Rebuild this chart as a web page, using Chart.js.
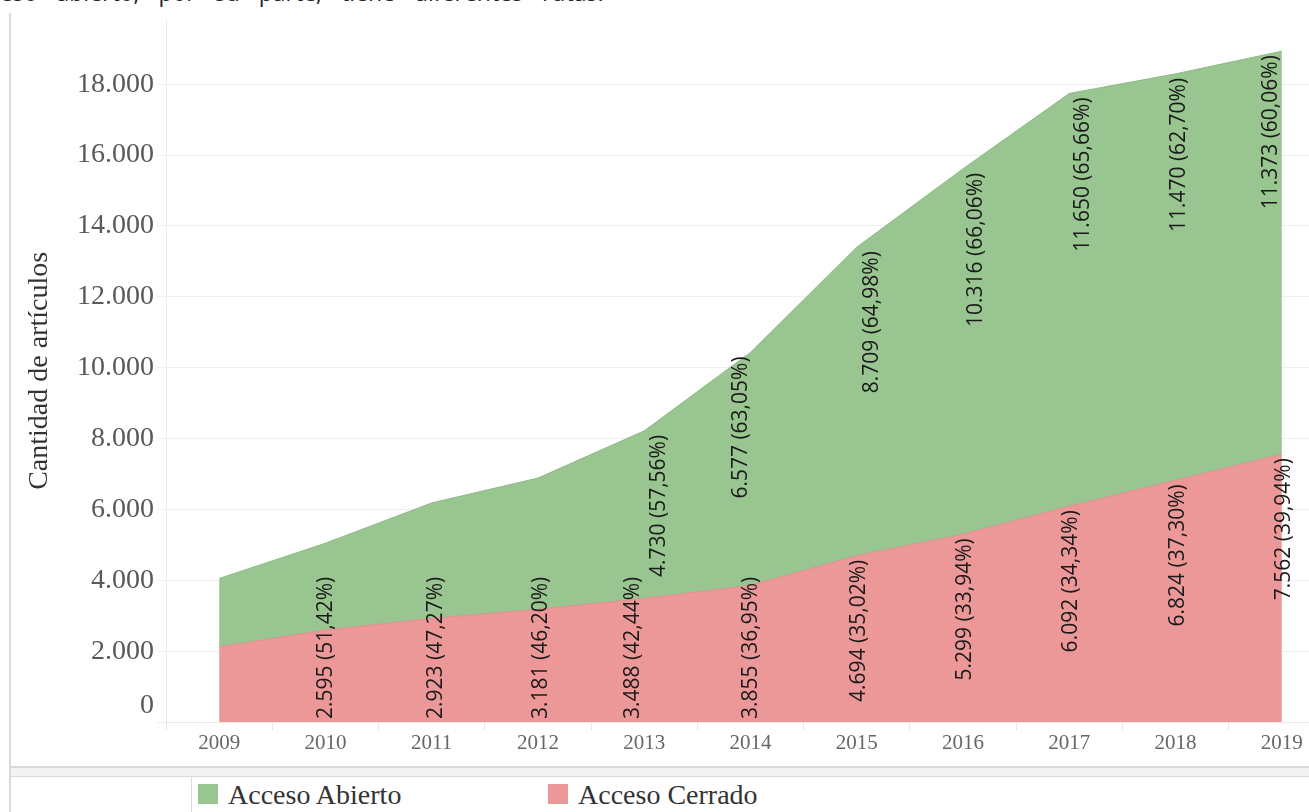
<!DOCTYPE html>
<html>
<head>
<meta charset="utf-8">
<script src="https://cdn.jsdelivr.net/npm/chart.js@4"></script>
<style>
  html, body { margin: 0; padding: 0; background: #fff; }
  body { width: 1309px; height: 812px; overflow: hidden; position: relative; }
  #topText { position: absolute; left: -35px; top: -19px; white-space: nowrap;
    font-family: "Open Sans", sans-serif; font-size: 23px; line-height: 1; color: #222; word-spacing: 13px; }
  #frame { position: absolute; left: 9px; top: 13px; width: 1400px; height: 753px;
    border-left: 2px solid #d9d9d9; border-bottom: 2px solid #d9d9d9; }
  #band { position: absolute; left: 9px; top: 768px; width: 1400px; height: 8px; background: #f3f3f3; border-left: 2px solid #d9d9d9; }
  #legendBox { position: absolute; left: 9px; top: 776px; width: 1400px; height: 50px;
    border-top: 1px solid #d9d9d9; border-left: 2px solid #d9d9d9; background: #fff; }
  #divider { position: absolute; left: 191px; top: 777px; width: 1px; height: 40px; background: #dcdcdc; }
  .lg { position: absolute; top: 777px; height: 35px; font-family: "Liberation Serif", serif; font-size: 28px; color: #333; line-height: 35px; white-space: nowrap; }
  .sw { position: absolute; top: 7px; left: 0; width: 20px; height: 20px; }
  .lg span.t { position: absolute; left: 30px; top: 0; }
  #wrap { position: absolute; left: 0; top: 0; width: 1345px; height: 766px; }
</style>
</head>
<body>
<div id="topText">acceso abierto, por su parte, tiene diferentes rutas.</div>
<div id="frame"></div>
<div id="band"></div>
<div id="legendBox"></div>
<div id="divider"></div>
<div class="lg" id="lg0" style="left:198px;"><div class="sw"></div><span class="t"></span></div>
<div class="lg" id="lg1" style="left:548px;"><div class="sw"></div><span class="t"></span></div>
<div id="wrap"><canvas id="c" width="1345" height="766"></canvas></div>
<script>
// ---- data ----
const years = ['2009','2010','2011','2012','2013','2014','2015','2016','2017','2018','2019'];
const closedValues = [2120, 2595, 2923, 3181, 3488, 3855, 4694, 5299, 6092, 6824, 7562];
const openValues   = [1930, 2452, 3261, 3704, 4730, 6577, 8709, 10316, 11650, 11470, 11373];
const closedPct = [null, 51.42, 47.27, 46.20, 42.44, 36.95, 35.02, 33.94, 34.34, 37.30, 39.94];
const openPct   = [null, null, null, null, 57.56, 63.05, 64.98, 66.06, 65.66, 62.70, 60.06];
const yTicks = [0, 2000, 4000, 6000, 8000, 10000, 12000, 14000, 16000, 18000];
const seriesNames = ['Acceso Abierto', 'Acceso Cerrado'];
const yTitle = 'Cantidad de artículos';

// ---- styles ----
const seriesColors = ['#99c590', '#ec9898'];
const seriesBorders = ['#8cba83', '#e28c8c'];
const yMax = 19820;
// label nudges (pixels) to mimic the original's collision-avoiding placement
const closedLabelDx = [0, 0, 3, 2, -12, 0, 1, 1, 1, 1, 1];
const openLabelDx   = [0, 0, 0, 0, 14, -10, 14, 12, 13, 2, -12];

function fmtNum(v) { return String(v).replace(/\B(?=(\d{3})+(?!\d))/g, '.'); }
function fmtPct(p) { return p.toFixed(2).replace('.', ',') + '%'; }

// legend (HTML)
[0,1].forEach(i => {
  const el = document.getElementById('lg' + i);
  el.querySelector('.sw').style.background = seriesColors[i];
  el.querySelector('.t').textContent = seriesNames[i];
});

const labelPlugin = {
  id: 'areaLabels',
  afterDraw(chart) {
    const ctx = chart.ctx;
    const xs = chart.scales.x, ys = chart.scales.y;
    const base = ys.getPixelForValue(0) - 3;
    ctx.save();
    ctx.font = '21px "Open Sans", sans-serif';
    ctx.fillStyle = '#1a1a1a';
    ctx.textAlign = 'right';
    ctx.textBaseline = 'middle';
    const draw = (text, x, y) => {
      ctx.save();
      ctx.translate(x, y);
      ctx.rotate(-Math.PI / 2);
      ctx.fillText(text, 0, 0);
      ctx.restore();
    };
    for (let i = 0; i < years.length; i++) {
      const cx = xs.getPixelForValue(i) + 1;
      if (closedPct[i] != null) {
        const t = fmtNum(closedValues[i]) + ' (' + fmtPct(closedPct[i]) + ')';
        const w = ctx.measureText(t).width;
        const top = ys.getPixelForValue(closedValues[i]) + 4;
        draw(t, cx + closedLabelDx[i], Math.min(top, base - w));
      }
      if (openPct[i] != null) {
        const t = fmtNum(openValues[i]) + ' (' + fmtPct(openPct[i]) + ')';
        const top = ys.getPixelForValue(closedValues[i] + openValues[i]) + 4;
        draw(t, cx + openLabelDx[i], top);
      }
    }
    ctx.restore();
  }
};

new Chart(document.getElementById('c'), {
  type: 'line',
  data: {
    labels: years,
    datasets: [
      { label: seriesNames[1], data: closedValues, backgroundColor: seriesColors[1], borderColor: seriesBorders[1],
        borderWidth: 1, fill: 'origin', pointRadius: 0, tension: 0 },
      { label: seriesNames[0], data: openValues, backgroundColor: seriesColors[0], borderColor: seriesBorders[0],
        borderWidth: 1, fill: '-1', pointRadius: 0, tension: 0 }
    ]
  },
  options: {
    responsive: false,
    animation: false,
    devicePixelRatio: 1,
    layout: { padding: { left: 10, top: 0, right: 10, bottom: 0 } },
    plugins: { legend: { display: false }, tooltip: { enabled: false } },
    scales: {
      x: {
        type: 'category',
        offset: true,
        grid: { offset: true, drawOnChartArea: false, drawTicks: true, tickLength: 8, color: '#e4e4e4' },
        border: { display: true, color: '#e8e8e8' },
        ticks: { font: { family: '"Liberation Serif", serif', size: 21 }, color: '#666', padding: 1, maxRotation: 0, autoSkip: false },
        afterFit(s) { s.height = 44; }
      },
      y: {
        stacked: true,
        min: 0,
        max: yMax,
        z: 1,
        afterBuildTicks(s) { s.ticks = yTicks.map(v => ({ value: v })); },
        ticks: {
          autoSkip: false,
          font: { family: '"Liberation Serif", serif', size: 28 },
          color: '#595959',
          padding: 3,
          callback: v => v === 0 ? ['0', ''] : fmtNum(v)
        },
        grid: { color: 'rgba(190,190,190,0.25)', tickLength: 9, drawTicks: true },
        border: { display: true, color: '#ececec' },
        title: { display: true, text: yTitle, font: { family: '"Liberation Serif", serif', size: 28 }, color: '#333', padding: { top: 13, bottom: 0 } },
        afterFit(s) { s.width = 156; }
      }
    }
  },
  plugins: [labelPlugin]
});
</script>
</body>
</html>
